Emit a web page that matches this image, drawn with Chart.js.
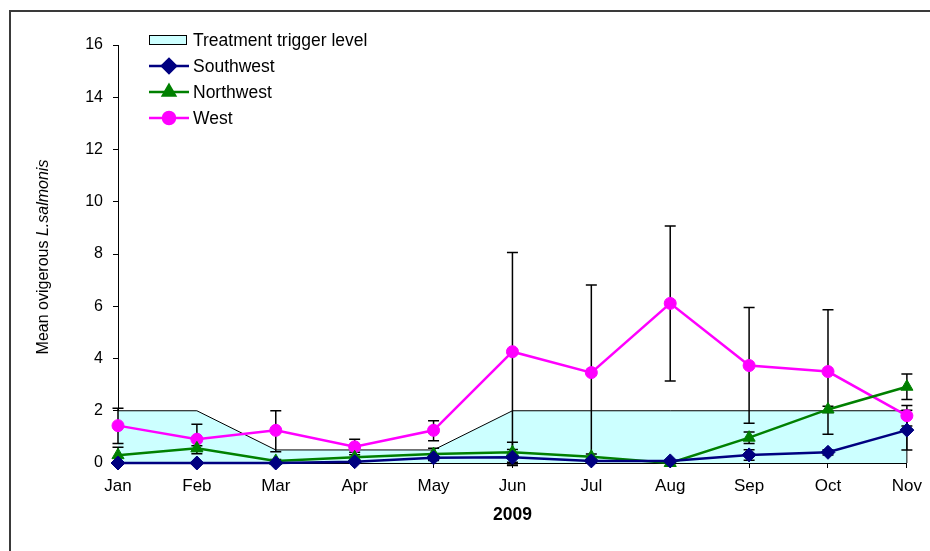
<!DOCTYPE html>
<html>
<head>
<meta charset="utf-8">
<script src="https://cdn.jsdelivr.net/npm/chart.js@4"></script>
<style>
    body { margin: 0; background: #fff; }
    #wrap { position: relative; width: 930px; height: 551px; }
</style>
</head>
<body>
<div id="wrap"><canvas id="lepChart" width="930" height="551"></canvas></div>
<script>
// months of 2009
const months = ['Jan', 'Feb', 'Mar', 'Apr', 'May', 'Jun', 'Jul', 'Aug', 'Sep', 'Oct', 'Nov'];
const yTicks = [0, 2, 4, 6, 8, 10, 12, 14, 16];

// treatment trigger level
const triggerLevel = [2, 2, 0.5, 0.5, 0.5, 2, 2, 2, 2, 2, 2];

// mean ovigerous L. salmonis per site
const southwest = [0, 0, 0, 0.05, 0.2, 0.22, 0.08, 0.08, 0.31, 0.41, 1.26];
const northwest = [0.3, 0.56, 0.08, 0.22, 0.34, 0.41, 0.24, 0, 0.97, 2.05, 2.92];
const west = [1.43, 0.91, 1.25, 0.62, 1.25, 4.26, 3.46, 6.11, 3.73, 3.5, 1.81];

// error bars (west given as low/high, others as +/-)
const westLow = [0.75, 0.35, 0.43, 0.41, 0.85, -0.1, 0.1, 3.14, 1.52, 1.1, 1.42];
const westHigh = [2.1, 1.48, 2.0, 0.91, 1.62, 8.06, 6.81, 9.07, 5.95, 5.87, 2.2];
const northwestErr = [0.3, 0.1, 0.05, 0.1, 0.22, 0.38, 0.1, 0, 0.22, 0.12, 0.49];
const southwestErr = [0, 0, 0, 0.05, 0.1, 0.3, 0.05, 0, 0.2, 0.1, 0.76];

const FONT = 'Arial, "Liberation Sans", sans-serif';

function buildErrorSets() {
    return [
        { low: westLow, high: westHigh },
        { low: northwest.map((v, i) => v - northwestErr[i]), high: northwest.map((v, i) => v + northwestErr[i]) },
        { low: southwest.map((v, i) => v - southwestErr[i]), high: southwest.map((v, i) => v + southwestErr[i]) }
    ];
}

// frame + y axis title
const framePlugin = {
    id: 'frame',
    beforeDraw(chart) {
        const ctx = chart.ctx;
        ctx.save();
        ctx.strokeStyle = '#3a3a3a';
        ctx.lineWidth = 2;
        ctx.beginPath();
        ctx.moveTo(10, 551);
        ctx.lineTo(10, 11);
        ctx.lineTo(930, 11);
        ctx.stroke();
        ctx.restore();
    },
    afterDraw(chart) {
        const ctx = chart.ctx;
        const part1 = 'Mean ovigerous ';
        const part2 = 'L.salmonis';
        ctx.save();
        ctx.translate(44, 257);
        ctx.rotate(-Math.PI / 2);
        ctx.fillStyle = '#000';
        ctx.textBaseline = 'middle';
        ctx.font = '16px ' + FONT;
        const w1 = ctx.measureText(part1).width;
        ctx.font = 'italic 16px ' + FONT;
        const w2 = ctx.measureText(part2).width;
        let x = -(w1 + w2) / 2;
        ctx.font = '16px ' + FONT;
        ctx.fillText(part1, x, 0);
        ctx.font = 'italic 16px ' + FONT;
        ctx.fillText(part2, x + w1, 0);
        ctx.restore();
    }
};

// error bars drawn right after the trigger area, below the series lines
const errorBarPlugin = {
    id: 'errorBars',
    afterDatasetDraw(chart, args) {
        if (args.index !== 0) return;
        const ctx = chart.ctx;
        const xs = chart.scales.x;
        const ys = chart.scales.y;

        // right edge of the trigger area
        const last = triggerLevel.length - 1;
        ctx.save();
        ctx.strokeStyle = '#000';
        ctx.lineWidth = 1;
        ctx.beginPath();
        ctx.moveTo(xs.getPixelForValue(last), ys.getPixelForValue(triggerLevel[last]));
        ctx.lineTo(xs.getPixelForValue(last), ys.getPixelForValue(0));
        ctx.stroke();

        ctx.lineWidth = 1.5;
        buildErrorSets().forEach(set => {
            set.low.forEach((lo, i) => {
                const hi = set.high[i];
                if (hi - lo <= 0) return;
                const px = xs.getPixelForValue(i);
                const yLo = ys.getPixelForValue(lo);
                const yHi = ys.getPixelForValue(hi);
                ctx.beginPath();
                ctx.moveTo(px, yLo);
                ctx.lineTo(px, yHi);
                ctx.moveTo(px - 5.5, yLo);
                ctx.lineTo(px + 5.5, yLo);
                ctx.moveTo(px - 5.5, yHi);
                ctx.lineTo(px + 5.5, yHi);
                ctx.stroke();
            });
        });
        ctx.restore();
    }
};

// legend in the top-left of the plot
const legendPlugin = {
    id: 'insideLegend',
    afterDraw(chart) {
        const ctx = chart.ctx;
        const ds = chart.data.datasets;
        ctx.save();
        ctx.font = '17.5px ' + FONT;
        ctx.textBaseline = 'middle';
        ds.forEach((d, i) => {
            const cy = 40 + i * 26;
            if (i === 0) {
                ctx.fillStyle = d.backgroundColor;
                ctx.fillRect(149, cy - 4, 37, 9);
                ctx.strokeStyle = '#000';
                ctx.lineWidth = 1;
                ctx.strokeRect(149.5, cy - 4.5, 37, 9);
            } else {
                ctx.strokeStyle = d.borderColor;
                ctx.lineWidth = d.borderWidth;
                ctx.beginPath();
                ctx.moveTo(149, cy);
                ctx.lineTo(189, cy);
                ctx.stroke();
                Chart.helpers.drawPoint(ctx, {
                    pointStyle: d.pointStyle,
                    radius: d.pointRadius,
                    borderWidth: 1
                }, 169, cy);
                ctx.fillStyle = d.pointBackgroundColor;
                ctx.strokeStyle = d.pointBorderColor;
                ctx.fill();
            }
            ctx.fillStyle = '#000';
            ctx.fillText(d.label, 193, cy + 1);
        });
        ctx.restore();
    }
};

const lineStyle = (color, style, radius) => ({
    borderColor: color,
    backgroundColor: color,
    pointBackgroundColor: color,
    pointBorderColor: color,
    pointStyle: style,
    pointRadius: radius,
    pointBorderWidth: 1,
    borderWidth: 2.5,
    tension: 0,
    fill: false,
    clip: false
});

new Chart(document.getElementById('lepChart'), {
    type: 'line',
    data: {
        labels: months,
        datasets: [{
            label: 'Treatment trigger level',
            data: triggerLevel,
            borderColor: '#000',
            borderWidth: 1,
            backgroundColor: '#CCFFFF',
            fill: 'origin',
            pointRadius: 0,
            tension: 0,
            order: 4
        }, {
            label: 'Southwest',
            data: southwest,
            ...lineStyle('#000080', 'rectRot', 7),
            order: 1
        }, {
            label: 'Northwest',
            data: northwest,
            ...lineStyle('#008000', 'triangle', 7),
            order: 2
        }, {
            label: 'West',
            data: west,
            ...lineStyle('#FF00FF', 'circle', 6),
            order: 3
        }]
    },
    options: {
        responsive: false,
        animation: false,
        layout: { padding: { top: 45, right: 22, bottom: 21, left: 0 } },
        plugins: {
            legend: { display: false },
            tooltip: { enabled: false }
        },
        scales: {
            x: {
                offset: false,
                grid: { drawOnChartArea: false, color: '#000', tickLength: 5 },
                border: { color: '#000', width: 1 },
                ticks: { color: '#000', font: { family: FONT, size: 17 }, padding: 8, maxRotation: 0 },
                title: { display: true, text: '2009', color: '#000', font: { family: FONT, size: 17.5, weight: 'bold' } },
                afterFit: s => { s.height = 67; }
            },
            y: {
                min: 0,
                max: 16,
                afterBuildTicks: s => { s.ticks = yTicks.map(v => ({ value: v })); },
                grid: { drawOnChartArea: false, color: '#000', tickLength: 5 },
                border: { color: '#000', width: 1 },
                ticks: { color: '#000', font: { family: FONT, size: 16 }, padding: 10 },
                afterFit: s => { s.width = 118; }
            }
        }
    },
    plugins: [framePlugin, errorBarPlugin, legendPlugin]
});
</script>
</body>
</html>
